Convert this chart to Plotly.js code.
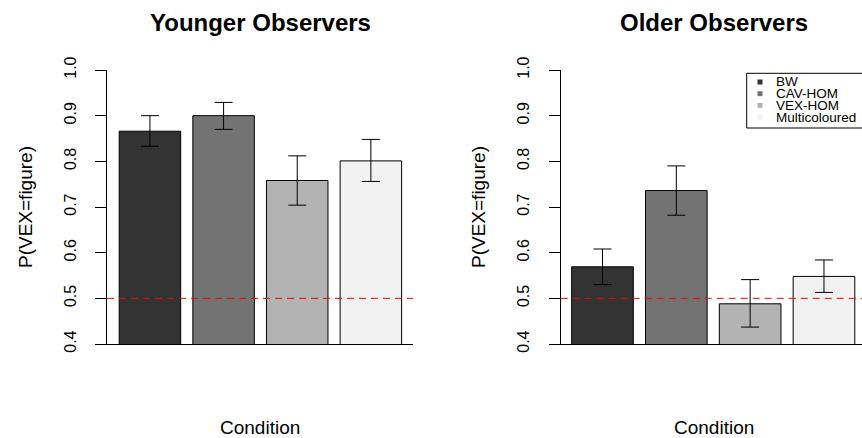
<!DOCTYPE html>
<html>
<head>
<meta charset="utf-8">
<script src="https://cdn.plot.ly/plotly-3.0.1.min.js"></script>
<style>
  html, body { margin: 0; padding: 0; background: #ffffff; }
  #chart { width: 862px; height: 438px; }
</style>
</head>
<body>
<div id="chart"></div>
<script>
// ---- data ----
const categories = ["BW", "CAV-HOM", "VEX-HOM", "Multicoloured"];
const barColors = ["#333333", "#737373", "#b3b3b3", "#f2f2f2"];

const youngerMeans = [0.866, 0.900, 0.758, 0.801];
const youngerUpper = [0.900, 0.929, 0.812, 0.848];
const youngerLower = [0.833, 0.870, 0.704, 0.756];

const olderMeans = [0.569, 0.736, 0.488, 0.548];
const olderUpper = [0.608, 0.790, 0.541, 0.584];
const olderLower = [0.530, 0.682, 0.437, 0.513];

const yTickVals = [0.4, 0.5, 0.6, 0.7, 0.8, 0.9, 1.0];
const yTickText = ["0.4", "0.5", "0.6", "0.7", "0.8", "0.9", "1.0"];
const chanceLevel = 0.5;

const panelTitles = ["Younger Observers", "Older Observers"];
const yTitle = "P(VEX=figure)";
const xTitle = "Condition";

// ---- layout helpers ----
const W = 862, H = 438;
const px = v => v / W;
const py = v => 1 - v / H;
const FONT = "Liberation Sans, Arial, Helvetica, sans-serif";

function errTrace(means, upper, lower, xa, ya) {
  return {
    type: "bar",
    x: categories,
    y: means,
    xaxis: xa, yaxis: ya,
    marker: { color: barColors, line: { color: "#000000", width: 1 } },
    error_y: {
      type: "data", symmetric: false,
      array: upper.map((u, i) => u - means[i]),
      arrayminus: lower.map((l, i) => means[i] - l),
      color: "#000000", thickness: 1, width: 9
    },
    showlegend: false,
    hoverinfo: "x+y"
  };
}

const traces = [
  errTrace(youngerMeans, youngerUpper, youngerLower, "x", "y"),
  errTrace(olderMeans, olderUpper, olderLower, "x2", "y2")
];

const yAxisBase = {
  range: [0.4, 1.0],
  tickvals: yTickVals, ticktext: yTickText,
  tickangle: -90,
  ticks: "outside", ticklen: 11, tickwidth: 1, tickcolor: "#000000",
  ticklabelstandoff: 13,
  showline: true, linecolor: "#000000", linewidth: 1,
  showgrid: false, zeroline: false, automargin: false,
  tickfont: { family: FONT, size: 16, color: "#000000" },
  fixedrange: true
};
const xAxisBase = {
  type: "category",
  showline: true, linecolor: "#000000", linewidth: 1,
  ticks: "", showticklabels: false,
  showgrid: false, zeroline: false, automargin: false,
  fixedrange: true
};

const domY = [py(344), py(70)];

const layout = {
  width: W, height: H,
  margin: { l: 0, r: 0, t: 0, b: 0, pad: 0 },
  paper_bgcolor: "#ffffff", plot_bgcolor: "#ffffff",
  bargap: 0.165,
  showlegend: false,
  xaxis: Object.assign({}, xAxisBase, { domain: [px(107), px(413)], range: [-0.583, 3.572], anchor: "y" }),
  yaxis: Object.assign({}, yAxisBase, { domain: domY, anchor: "x" }),
  xaxis2: Object.assign({}, xAxisBase, { domain: [px(560.7), 1], range: [-0.566, 3.515], anchor: "y2" }),
  yaxis2: Object.assign({}, yAxisBase, { domain: domY, anchor: "x2" }),
  shapes: [],
  annotations: []
};

// chance-level dashed line
[["x domain", "y"], ["x2 domain", "y2"]].forEach(([xr, yr]) => {
  layout.shapes.push({
    type: "line", xref: xr, yref: yr, x0: 0, x1: 1, y0: chanceLevel, y1: chanceLevel,
    line: { color: "#ff0000", width: 1, dash: "7px,5px" }, layer: "above"
  });
});

// titles and axis titles
const panelCentersX = [260, 714];
const yTitleX = [25, 478];
panelTitles.forEach((t, i) => {
  layout.annotations.push({
    text: "<b>" + t + "</b>", xref: "paper", yref: "paper",
    x: px(panelCentersX[i]), y: py(22), xanchor: "center", yanchor: "middle",
    showarrow: false, font: { family: FONT, size: 24, color: "#000000" }
  });
  layout.annotations.push({
    text: xTitle, xref: "paper", yref: "paper",
    x: px(panelCentersX[i]), y: py(427.5), xanchor: "center", yanchor: "middle",
    showarrow: false, font: { family: FONT, size: 19, color: "#000000" }
  });
  layout.annotations.push({
    text: yTitle, xref: "paper", yref: "paper", textangle: -90,
    x: px(yTitleX[i]), y: py(207), xanchor: "center", yanchor: "middle",
    showarrow: false, font: { family: FONT, size: 19, color: "#000000" }
  });
});

// legend (drawn in the right panel, top right)
const legLeft = 746.7, legTop = 73.3, legBottom = 128;
layout.shapes.push({
  type: "rect", xref: "paper", yref: "paper",
  x0: px(legLeft), x1: 1.02, y0: py(legBottom), y1: py(legTop),
  line: { color: "#000000", width: 1 }, fillcolor: "#ffffff", layer: "above"
});
categories.forEach((c, i) => {
  const cy = 82 + 11.7 * i;
  layout.shapes.push({
    type: "rect", xref: "paper", yref: "paper",
    x0: px(757.5), x1: px(762.5), y0: py(cy + 2.5), y1: py(cy - 2.5),
    line: { width: 0 }, fillcolor: barColors[i], layer: "above"
  });
  layout.annotations.push({
    text: c, xref: "paper", yref: "paper",
    x: px(774), y: py(cy), xanchor: "left", yanchor: "middle",
    showarrow: false, font: { family: FONT, size: 13.5, color: "#000000" }
  });
});

Plotly.newPlot("chart", traces, layout, { displayModeBar: false, staticPlot: true });
</script>
</body>
</html>
